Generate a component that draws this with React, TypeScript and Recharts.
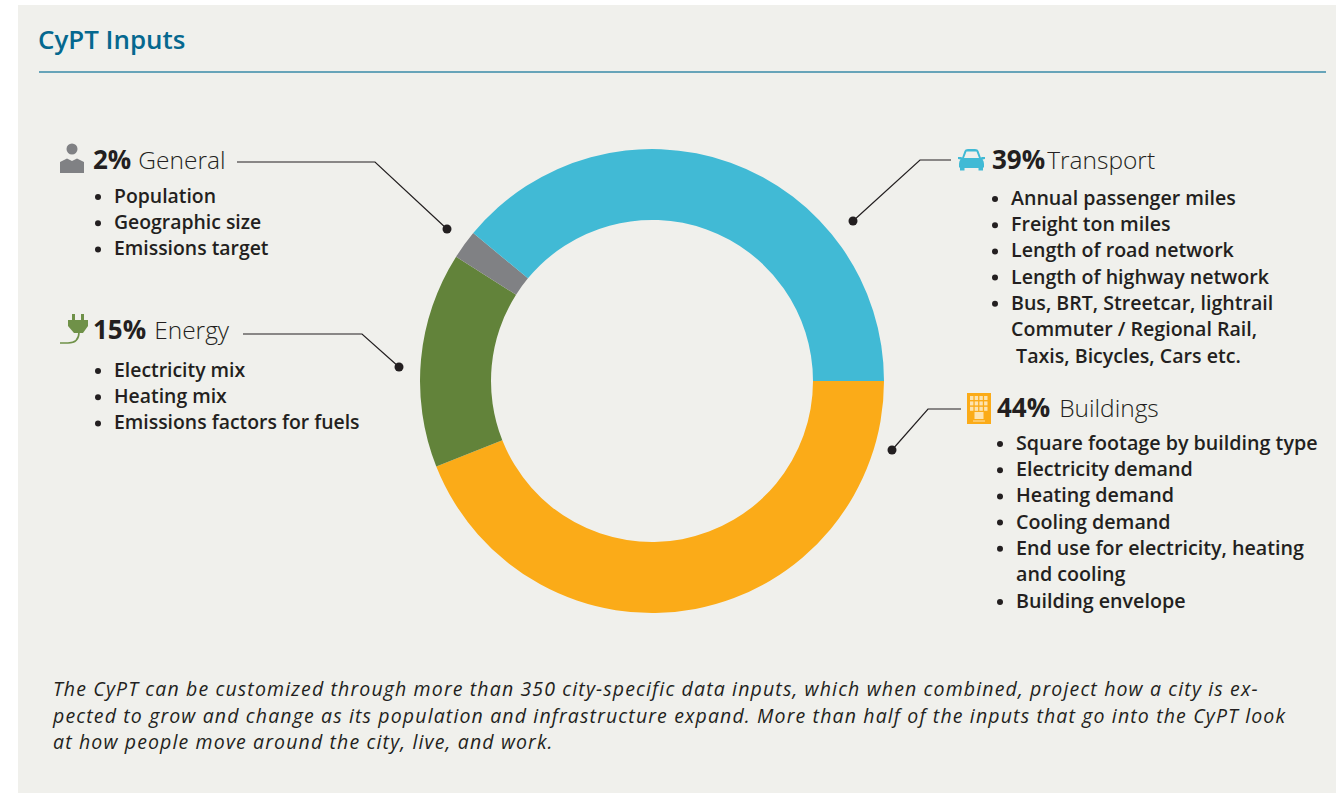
import React from 'react';
import { PieChart, Pie, Cell } from 'recharts';

const sectorNames = ['Buildings', 'Energy', 'General', 'Transport'];
const sectorValues = [44, 15, 2, 39];
const sectorColors = ['#FBAB18', '#62833A', '#808184', '#41BAD5'];

const generalItems = ['Population', 'Geographic size', 'Emissions target'];
const energyItems = ['Electricity mix', 'Heating mix', 'Emissions factors for fuels'];
const transportItems = [
  'Annual passenger miles',
  'Freight ton miles',
  'Length of road network',
  'Length of highway network',
  'Bus, BRT, Streetcar, lightrail',
];
const transportExtra = ['Commuter / Regional Rail,', ' Taxis, Bicycles, Cars etc.'];
const buildingItems = [
  'Square footage by building type',
  'Electricity demand',
  'Heating demand',
  'Cooling demand',
  'End use for electricity, heating',
];
const buildingExtra = ['and cooling'];
const buildingLast = ['Building envelope'];

const noteLines = [
  'The CyPT can be customized through more than 350 city-specific data inputs, which when combined, project how a city is ex-',
  'pected to grow and change as its population and infrastructure expand. More than half of the inputs that go into the CyPT look',
  'at how people move around the city, live, and work.',
];

const FONT = '"Open Sans", sans-serif';
const INK = '#231F20';

const chartData = sectorNames.map((name, i) => ({ name, value: sectorValues[i] }));

const Heading = ({ x, y, pct, name, gap = 6 }: { x: number; y: number; pct: string; name: string; gap?: number }) => (
  <text x={x} y={y} fontFamily={FONT} fill={INK}>
    <tspan fontSize={26} fontWeight={700}>{pct}</tspan>
    <tspan dx={gap} fontSize={24.5} fontWeight={300}>{name}</tspan>
  </text>
);

const Bullets = ({ x, y, items, size = 19.4 }: { x: number; y: number; items: string[]; size?: number }) => (
  <>
    {items.map((item, i) => (
      <g key={item}>
        <circle cx={x} cy={y + i * 26.2 - 6} r={3} fill={INK} />
        <text x={x + 16} y={y + i * 26.2} fontFamily={FONT} fontSize={size} fontWeight={600} fill={INK}>
          {item}
        </text>
      </g>
    ))}
  </>
);

const Leader = ({ points }: { points: string }) => {
  const last = points.trim().split(' ').pop()!.split(',').map(Number);
  return (
    <>
      <polyline points={points} fill="none" stroke={INK} strokeWidth={1.2} />
      <circle cx={last[0]} cy={last[1]} r={4.5} fill={INK} />
    </>
  );
};

export default function App() {
  return (
    <div style={{ position: 'absolute', left: 0, top: 0, width: 1336, height: 793, background: '#fff', overflow: 'hidden' }}>
      <div style={{ position: 'absolute', left: 18, top: 5, width: 1318, height: 788, background: '#F0F0EC' }} />
      <div style={{ position: 'absolute', left: 0, top: 0 }}>
        <PieChart width={1336} height={793} margin={{ top: 0, right: 0, bottom: 0, left: 0 }}>
          <Pie
            data={chartData}
            dataKey="value"
            nameKey="name"
            cx={652}
            cy={381}
            innerRadius={161}
            outerRadius={232}
            startAngle={0}
            endAngle={-360}
            stroke="none"
            isAnimationActive={false}
          >
            {chartData.map((d, i) => (
              <Cell key={d.name} fill={sectorColors[i]} />
            ))}
          </Pie>
        </PieChart>
      </div>
      <svg width={1336} height={793} style={{ position: 'absolute', left: 0, top: 0 }}>
        <text x={38} y={49} fontFamily={FONT} fontSize={25.9} fontWeight={600} fill="#05688F">CyPT Inputs</text>
        <line x1={39} y1={72} x2={1326} y2={72} stroke="#3A8BA8" strokeWidth={1.4} />

        {/* person */}
        <g fill="#808184">
          <circle cx={72} cy={149} r={5.5} />
          <path d="M60 172 V162 L67 158.500 L72 161 L77 158.500 L84 162 V173 H60 Z" />
        </g>
        <Heading x={93} y={169} pct="2%" name="General" gap={7} />
        <Leader points="237,162 375,162 447,229" />
        <Bullets x={98} y={203} items={generalItems} />

        {/* plug */}
        <g fill="#6F9148">
          <rect x={72} y={314} width={3} height={7} />
          <rect x={81} y={314} width={3} height={7} />
          <path d="M68 320 H88 V326 L83 333 H74 L68 326 Z" />
        </g>
        <path d="M60 343 H68 Q79 343 79 332" fill="none" stroke="#6F9148" strokeWidth={1.6} />
        <Heading x={93} y={339} pct="15%" name="Energy" gap={8} />
        <Leader points="243,334 362,334 399,367" />
        <Bullets x={98} y={377} items={energyItems} />

        {/* car */}
        <g fill="#41BAD5">
          <path d="M962 158 L964.500 151 Q965 149 968 149 H975 Q978 149 978.500 151 L981 158 L979 158 L976.500 151.500 H966.500 L964 158 Z" />
          <path d="M958 157 H961 L963 158 H980 L982 157 H985 V159 L982.500 159.500 Q984 161 984 164 V167 L983 168 V170.500 H978.500 V168 H964.500 V170.500 H960 V168 L959 167 V164 Q959 161 960.500 159.500 L958 159 Z" />
        </g>
        <Heading x={992} y={169} pct="39%" name="Transport" gap={2} />
        <Leader points="951,160 920,160 853,221" />
        <Bullets x={995} y={205} items={transportItems} size={19.6} />
        {transportExtra.map((line, i) => (
          <text key={line} x={1011} y={336 + i * 26.500} fontFamily={FONT} fontSize={19.6} fontWeight={600} fill={INK} xmlSpace="preserve">
            {line}
          </text>
        ))}

        {/* building */}
        <rect x={967} y={393} width={24} height={31} fill="#FBAB18" />
        <g fill="#FDE3B0">
          {[0, 1, 2, 3].map((c) =>
            [0, 1, 2].map((r) => <rect key={`${c}-${r}`} x={970 + c * 4.700} y={396 + r * 5.400} width={3.400} height={4} />)
          )}
          <rect x={974.500} y={412} width={9} height={7} />
          <rect x={973} y={420.500} width={12} height={1} />
        </g>
        <Heading x={997} y={417} pct="44%" name="Buildings" gap={9} />
        <Leader points="961,409 928,409 892,450" />
        <Bullets x={1000} y={450} items={buildingItems} size={19.7} />
        {buildingExtra.map((line) => (
          <text key={line} x={1016} y={581} fontFamily={FONT} fontSize={19.7} fontWeight={600} fill={INK}>
            {line}
          </text>
        ))}
        <Bullets x={1000} y={608} items={buildingLast} size={19.7} />

        {noteLines.map((line, i) => (
          <text key={line} x={53} y={696 + i * 26.500} fontFamily={FONT} fontSize={19.500} letterSpacing={1.14} fontStyle="italic" fill={INK}>
            {line}
          </text>
        ))}
      </svg>
    </div>
  );
}
